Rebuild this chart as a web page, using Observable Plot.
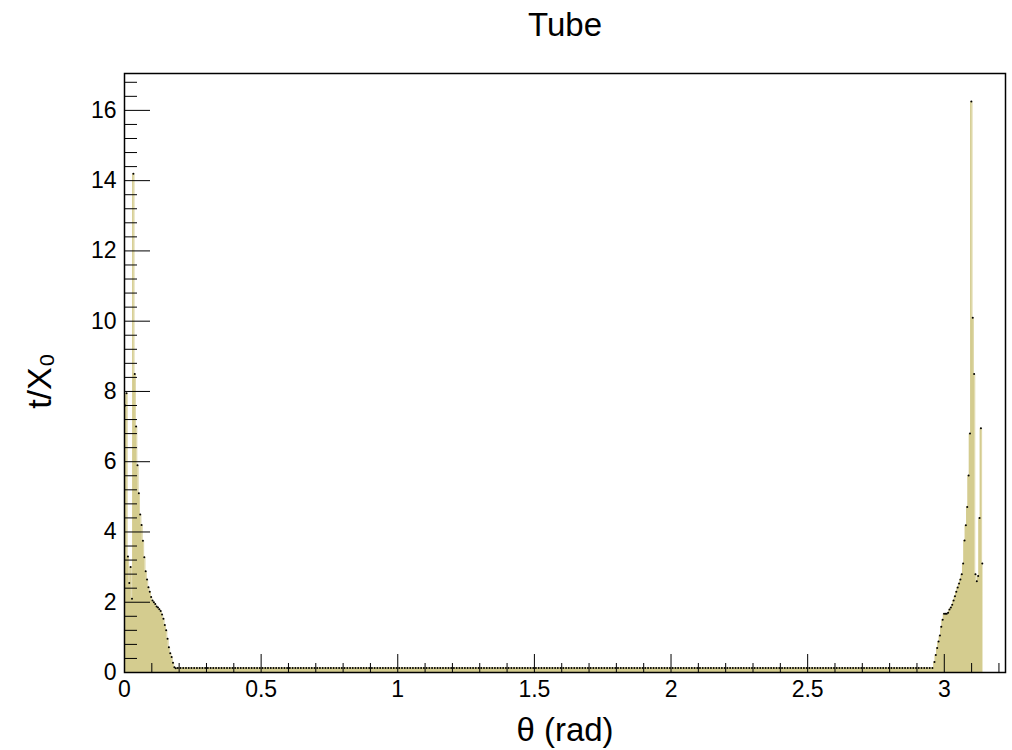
<!DOCTYPE html>
<html><head><meta charset="utf-8">
<script src="https://cdn.jsdelivr.net/npm/d3@7"></script>
<script src="https://cdn.jsdelivr.net/npm/@observablehq/plot@0.6"></script>
<style>body{margin:0;background:#fff} svg{display:block}</style>
</head><body><div id="chart"></div>
<script>
const title = ["Tube"];
const xLabel = ["θ (rad)"];
const yLabel = ["t/X₀"];
const xMajor = [0, 0.5, 1, 1.5, 2, 2.5, 3];
const xMinor = [0.1,0.2,0.3,0.4,0.6,0.7,0.8,0.9,1.1,1.2,1.3,1.4,1.6,1.7,1.8,1.9,2.1,2.2,2.3,2.4,2.6,2.7,2.8,2.9,3.1,3.2];
const yMajor = [0, 2, 4, 6, 8, 10, 12, 14, 16];
const yMinor = [0.4,0.8,1.2,1.6,2.4,2.8,3.2,3.6,4.4,4.8,5.2,5.6,6.4,6.8,7.2,7.6,8.4,8.8,9.2,9.6,10.4,10.8,11.2,11.6,12.4,12.8,13.2,13.6,14.4,14.8,15.2,15.6,16.4,16.8];

// histogram bins: left peak (fine bins from 0), flat middle, right peak (fine bins ending at pi)
const fineWidth = 0.005;
const leftStart = 0;
const leftVals = [7.6,7.95,3.3,2.55,3.0,2.1,14.2,8.5,7.0,5.9,5.1,4.5,4.2,3.75,3.28,2.88,2.65,2.43,2.3,2.15,
  2.05,2.0,1.95,1.88,1.85,1.8,1.75,1.65,1.53,1.35,1.2,0.96,0.72,0.55,0.44,0.28,0.15,0.12];
const flatStart = 0.19, flatEnd = 2.96159;
const flatVals = [
0.13,0.13,0.13,0.13,0.13,0.13,0.13,0.13,0.13,0.13,0.13,0.13,0.13,0.13,0.13,0.13,0.13,0.13,0.13,0.13,
0.13,0.13,0.13,0.13,0.13,0.13,0.13,0.13,0.13,0.13,0.13,0.13,0.13,0.13,0.13,0.13,0.13,0.13,0.13,0.13,
0.13,0.13,0.13,0.13,0.13,0.13,0.13,0.13,0.13,0.13,0.13,0.13,0.13,0.13,0.13,0.13,0.13,0.13,0.13,0.13,
0.13,0.13,0.13,0.13,0.13,0.13,0.13,0.13,0.13,0.13,0.13,0.13,0.13,0.13,0.13,0.13,0.13,0.13,0.13,0.13,
0.13,0.13,0.13,0.13,0.13,0.13,0.13,0.13,0.13,0.13,0.13,0.13,0.13,0.13,0.13,0.13,0.13,0.13,0.13,0.13,
0.13,0.13,0.13,0.13,0.13,0.13,0.13,0.13,0.13,0.13,0.13,0.13,0.13,0.13,0.13,0.13,0.13,0.13,0.13,0.13,
0.13,0.13,0.13,0.13,0.13,0.13,0.13,0.13,0.13,0.13,0.13,0.13,0.13,0.13,0.13,0.13,0.13,0.13,0.13,0.13,
0.13,0.13,0.13,0.13,0.13,0.13,0.13,0.13,0.13,0.13,0.13,0.13,0.13,0.13,0.13,0.13,0.13,0.13,0.13,0.13,
0.13,0.13,0.13,0.13,0.13,0.13,0.13,0.13,0.13,0.13,0.13,0.13,0.13,0.13,0.13,0.13,0.13,0.13,0.13,0.13,
0.13,0.13,0.13,0.13,0.13,0.13,0.13,0.13,0.13,0.13,0.13,0.13,0.13,0.13,0.13,0.13,0.13,0.13,0.13,0.13,
0.13,0.13,0.13,0.13,0.13,0.13,0.13,0.13,0.13,0.13,0.13,0.13,0.13,0.13,0.13,0.13,0.13,0.13,0.13,0.13,
0.13,0.13,0.13,0.13,0.13,0.13,0.13,0.13,0.13,0.13,0.13,0.13,0.13,0.13,0.13,0.13,0.13,0.13,0.13,0.13,
0.13,0.13,0.13,0.13,0.13,0.13,0.13,0.13,0.13,0.13,0.13,0.13,0.13,0.13,0.13,0.13,0.13,0.13,0.13,0.13,
0.13,0.13,0.13,0.13,0.13,0.13,0.13,0.13,0.13,0.13,0.13,0.13,0.13,0.13,0.13,0.13,0.13];
const rightStart = 2.96159;
const rightVals = [0.3,0.5,0.7,0.88,1.05,1.3,1.5,1.67,1.67,1.67,1.7,1.79,1.85,1.93,2.05,2.17,2.3,2.42,2.53,2.65,
  2.8,3.1,3.76,4.19,4.71,5.61,6.8,16.25,10.1,8.5,2.8,2.6,2.75,4.4,6.95,3.1];

const bins = [];
leftVals.forEach((v, i) => bins.push({x1: leftStart + i * fineWidth, x2: leftStart + (i + 1) * fineWidth, v}));
const flatWidth = (flatEnd - flatStart) / flatVals.length;
flatVals.forEach((v, i) => bins.push({x1: flatStart + i * flatWidth, x2: flatStart + (i + 1) * flatWidth, v}));
rightVals.forEach((v, i) => bins.push({x1: rightStart + i * fineWidth, x2: rightStart + (i + 1) * fineWidth, v}));

// step outline points (bin low edges plus the final high edge)
const steps = bins.map(b => ({x: b.x1, v: b.v}));
steps.push({x: bins[bins.length - 1].x2, v: bins[bins.length - 1].v});

const fillColor = "#d4cc8f";

const plot = Plot.plot({
  width: 1012, height: 750,
  marginLeft: 124, marginRight: 7, marginTop: 73, marginBottom: 78,
  x: {domain: [0, 3.224]},
  y: {domain: [0, 17.05]},
  style: {fontFamily: "'Liberation Sans', Arial, sans-serif", fontSize: "23px", background: "#fff", color: "#000"},
  marks: [
    Plot.areaY(steps, {x: "x", y1: 0, y2: "v", curve: "step-after", fill: fillColor}),
    Plot.lineY(steps, {x: "x", y: "v", curve: "step-after", stroke: fillColor, strokeWidth: 0.8}),
    Plot.dot(bins, {x: d => (d.x1 + d.x2) / 2, y: "v", r: 1, fill: "#000", stroke: null}),
    Plot.axisX(xMajor, {tickSize: -18, tickPadding: 26, label: null, tickFormat: d => String(d)}),
    Plot.axisX(xMinor, {tickSize: -9, tickFormat: () => "", label: null}),
    Plot.axisY(yMajor, {tickSize: -26, tickPadding: 34, label: null, tickFormat: d => String(d)}),
    Plot.axisY(yMinor, {tickSize: -13, tickFormat: () => "", label: null}),
    Plot.frame({stroke: "#000", strokeWidth: 1.5}),
    Plot.text(title, {frameAnchor: "top", dy: -48, fontSize: 33, lineAnchor: "middle", textAnchor: "middle"}),
    Plot.text(xLabel, {frameAnchor: "bottom", dy: 58, fontSize: 33, lineAnchor: "middle", textAnchor: "middle"}),
    Plot.text(yLabel, {frameAnchor: "left", dx: -84, dy: 8, rotate: -90, fontSize: 34, lineAnchor: "middle", textAnchor: "middle"})
  ]
});
document.getElementById("chart").appendChild(plot);
</script>
</body></html>
